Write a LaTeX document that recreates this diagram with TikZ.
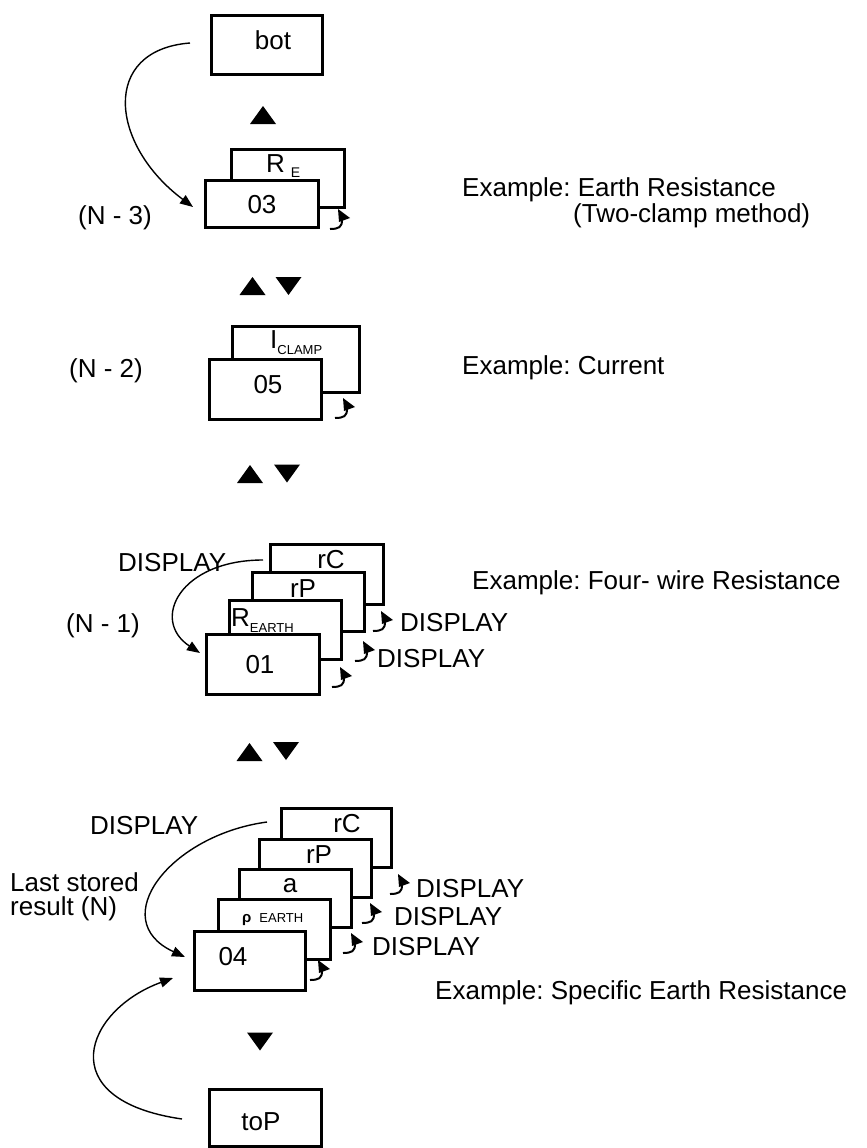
\documentclass[tikz,border=0pt]{standalone}
\usepackage{fontspec}
\setmainfont{Liberation Sans}
\usetikzlibrary{arrows.meta}
\newcommand\mysubf{\fontsize{13}{13}\selectfont}
\frenchspacing
\begin{document}
\begin{tikzpicture}[x=1pt,y=-1pt,
 box/.style={draw,line width=3pt,fill=white,inner sep=0pt},
 txt/.style={font=\fontsize{26}{30}\selectfont,inner sep=0pt},
 curve/.style={line width=1.4pt,-{Triangle[length=13pt,width=10pt]}},
 hookarr/.pic={\draw[line width=2pt] (0,0) .. controls (9,0) and (12,-2) .. (12,-9); \fill (8,-20) -- (9,-7) -- (20,-11) -- cycle;},
 uptri/.pic={\fill (-13,9) -- (13,9) -- (0,-9) -- cycle;},
 dntri/.pic={\fill (-13,-9) -- (13,-9) -- (0,9) -- cycle;}]
\useasboundingbox (0,0) rectangle (867,1148);

% ---- bot
\node[box,minimum width=111pt,minimum height=59pt] (bbot) at (267,45) {};
\node[txt,anchor=base] (tbot) at (273,50) {bot};
\pic at (263,115) {uptri};

% ---- N-3
\node[box,minimum width=113pt,minimum height=58pt] (bRE) at (288,178.5) {};
\node[txt,anchor=base west] (tRE) at (266,172) {R\hspace{6pt}\raisebox{-5pt}{\fontsize{14}{14}\selectfont E}};
\node[box,minimum width=113pt,minimum height=47pt] (b03) at (262,204) {};
\node[txt,anchor=base] (t03) at (262,213) {03};
\pic at (330,229) {hookarr};
\node[txt,anchor=base west] (n3) at (78,224) {(N - 3)};
\node[txt,anchor=base west] (ex1) at (462,196) {Example: Earth Resistance};
\node[txt,anchor=base west] (ex1b) at (573,222) {(Two-clamp method)};
\coordinate (c1s) at (190,43);
\coordinate (c1e) at (193,207);
\draw[curve] (c1s) .. controls (100,50) and (110,145) .. (c1e);

\pic at (252.5,286) {uptri};
\pic at (288.5,286) {dntri};

% ---- N-2
\node[box,minimum width=127pt,minimum height=66pt] (bIC) at (296,359.5) {};
\node[txt,anchor=base west] (tIC) at (270,348) {I\raisebox{-6pt}{\mysubf CLAMP}};
\node[box,minimum width=112pt,minimum height=60pt] (b05) at (265.5,389.5) {};
\node[txt,anchor=base] (t05) at (268,393) {05};
\pic at (335,418) {hookarr};
\node[txt,anchor=base west] (n2) at (69,377) {(N - 2)};
\node[txt,anchor=base west] (ex2) at (462,374) {Example: Current};

\pic at (250,474) {uptri};
\pic at (287,473.5) {dntri};

% ---- N-1
\node[box,minimum width=113pt,minimum height=60pt] (brC1) at (327,574.5) {};
\node[txt,anchor=base] (trC1) at (331,568) {rC};
\node[box,minimum width=112pt,minimum height=59pt] (brP1) at (308.5,602) {};
\node[txt,anchor=base] (trP1) at (303,597) {rP};
\node[box,minimum width=112pt,minimum height=59pt] (bRE1) at (285.5,630) {};
\node[txt,anchor=base west] (tRE1) at (231,626) {R\raisebox{-6pt}{\mysubf EARTH}};
\node[box,minimum width=113pt,minimum height=60pt] (b01) at (263,664.5) {};
\node[txt,anchor=base] (t01) at (260,673) {01};
\pic at (332,687) {hookarr};
\pic at (355,661) {hookarr};
\pic at (373,631) {hookarr};
\node[txt,anchor=base west] (d11) at (400,631) {DISPLAY};
\node[txt,anchor=base west] (d12) at (377,667) {DISPLAY};
\node[txt,anchor=base west] (d10) at (118,571) {DISPLAY};
\node[txt,anchor=base west] (n1) at (66,632) {(N - 1)};
\node[txt,anchor=base west] (ex3) at (472,589) {Example: Four- wire Resistance};
\coordinate (c2s) at (263,560);
\coordinate (c2e) at (200,653);
\draw[curve] (c2s) .. controls (180,560) and (150,620) .. (c2e);

\pic at (249.5,752) {uptri};
\pic at (286,751) {dntri};

% ---- N
\node[box,minimum width=110pt,minimum height=59pt] (brC2) at (336.5,838) {};
\node[txt,anchor=base] (trC2) at (347,832) {rC};
\node[box,minimum width=112pt,minimum height=58pt] (brP2) at (315.5,868.5) {};
\node[txt,anchor=base] (trP2) at (319,863) {rP};
\node[box,minimum width=112pt,minimum height=58pt] (ba) at (295.5,898.5) {};
\node[txt,anchor=base] (ta) at (290,892) {a};
\node[box,minimum width=112pt,minimum height=60pt] (brho) at (274.5,929.5) {};
\node[txt,anchor=base west] (trho) at (242,922) {{\bfseries\fontsize{15}{15}\selectfont ρ}\hspace{8pt}{\mysubf EARTH}};
\node[box,minimum width=111pt,minimum height=59pt] (b04) at (250,961) {};
\node[txt,anchor=base] (t04) at (233,965) {04};
\pic at (310,980) {hookarr};
\pic at (343,953) {hookarr};
\pic at (362,923) {hookarr};
\pic at (390,894) {hookarr};
\node[txt,anchor=base west] (d21) at (416,897) {DISPLAY};
\node[txt,anchor=base west] (d22) at (394,925) {DISPLAY};
\node[txt,anchor=base west] (d23) at (372,955) {DISPLAY};
\node[txt,anchor=base west] (d20) at (90,834) {DISPLAY};
\node[txt,anchor=base west] (ls1) at (10,891) {Last stored};
\node[txt,anchor=base west] (ls2) at (10,915) {result (N)};
\node[txt,anchor=base west] (ex4) at (435,999) {Example: Specific Earth Resistance};
\coordinate (c3s) at (267,822);
\coordinate (c3e) at (185,957);
\draw[curve] (c3s) .. controls (170,835) and (105,920) .. (c3e);

\pic at (260,1041.5) {dntri};

% ---- toP
\node[box,minimum width=112pt,minimum height=57pt] (btoP) at (265.5,1118) {};
\node[txt,anchor=base] (ttoP) at (261,1130) {toP};
\coordinate (c4s) at (182,1119);
\coordinate (c4e) at (173,978);
\draw[curve] (c4s) .. controls (50,1100) and (85,1010) .. (c4e);
\end{tikzpicture}
\end{document}
